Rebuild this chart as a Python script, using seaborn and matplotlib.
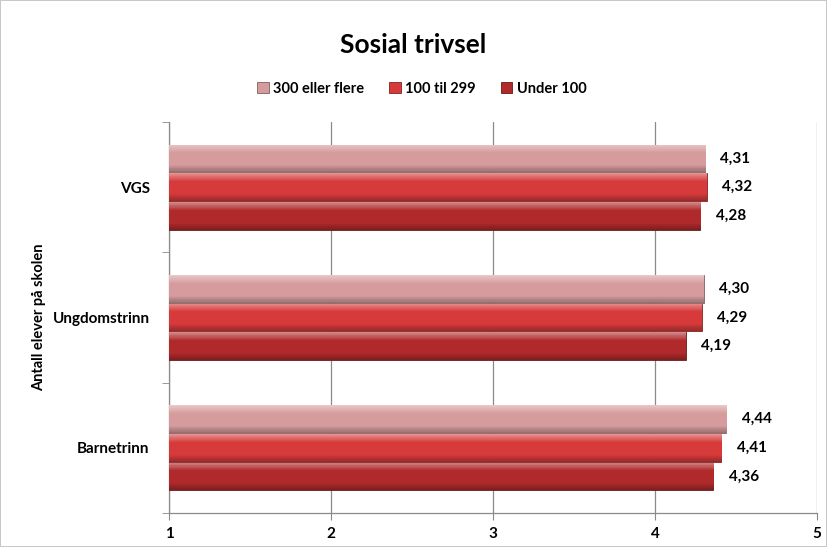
import numpy as np
import pandas as pd
import matplotlib
matplotlib.use("Agg")
import matplotlib.pyplot as plt
import matplotlib.colors as mcolors
import seaborn as sns

trinn = ["VGS", "Ungdomstrinn", "Barnetrinn"]
grupper = ["300 eller flere", "100 til 299", "Under 100"]
verdier = {
    "300 eller flere": [4.31, 4.30, 4.44],
    "100 til 299": [4.32, 4.29, 4.41],
    "Under 100": [4.28, 4.19, 4.36],
}
farger = ["#D69C9D", "#D63A3A", "#B02A2C"]
x_ticks = [1, 2, 3, 4, 5]

rows = []
for g in grupper:
    for t, v in zip(trinn, verdier[g]):
        rows.append({"trinn": t, "gruppe": g, "verdi": v})
df = pd.DataFrame(rows)

sns.set_style("white")
plt.rcParams["font.family"] = ["Lato", "DejaVu Sans"]
plt.rcParams["font.weight"] = "bold"
plt.rcParams["text.color"] = "black"
plt.rcParams["axes.labelcolor"] = "black"
plt.rcParams["xtick.labelcolor"] = "black"
plt.rcParams["ytick.labelcolor"] = "black"

fig = plt.figure(figsize=(8.27, 5.47), dpi=100, edgecolor="#c8c8c8", linewidth=1.2)
ax = fig.add_axes([0.2044, 0.0622, 0.7835, 0.7148])

sns.barplot(data=df, y="trinn", x="verdi", hue="gruppe", order=trinn,
            hue_order=grupper, palette=farger, orient="h", width=0.66,
            gap=0.04, ax=ax, legend=False, zorder=3)

xlim = (1, 5)
ylim = ax.get_ylim()

# gradient fill on each bar to mimic the bevelled look
for container, base in zip(ax.containers, farger):
    rgb = np.array(mcolors.to_rgb(base))
    light = rgb + (1 - rgb) * 0.45
    dark = rgb * 0.72
    stops = np.linspace(0, 1, 40)
    grad = []
    for s in stops:
        if s < 0.3:
            c = light + (rgb - light) * (s / 0.3)
        elif s < 0.75:
            c = rgb
        else:
            c = rgb + (dark - rgb) * ((s - 0.75) / 0.25)
        grad.append(c)
    grad = np.repeat(np.array(grad)[:, None, :], 4, axis=1)
    for bar in container:
        bar.set_edgecolor(mcolors.to_hex(rgb * 0.6))
        bar.set_linewidth(0.6)
        x0, y0 = bar.get_x(), bar.get_y()
        w, h = bar.get_width(), bar.get_height()
        im = ax.imshow(grad, extent=[xlim[0], x0 + w, y0 + h, y0], aspect="auto",
                       zorder=4, interpolation="nearest")
        im.set_clip_path(bar)
    ax.bar_label(container, labels=[f"{v:.2f}".replace(".", ",") for v in container.datavalues],
                 padding=11, fontsize=11, fontweight="bold", color="black", zorder=5)

ax.set_xlim(*xlim)
ax.set_ylim(ylim)
ax.set_xticks(x_ticks)
ax.set_xticklabels([str(t) for t in x_ticks], fontsize=11, fontweight="bold")
ax.xaxis.grid(True, color="#8a8a8a", linewidth=0.9, zorder=0)
ax.set_axisbelow(True)
ax.tick_params(axis="x", length=5, color="#8a8a8a", direction="out", pad=5, bottom=True)

ax.set_yticks(range(len(trinn)))
ax.set_yticklabels(trinn, fontsize=11, fontweight="bold")
ax.set_yticks([-0.5, 0.5, 1.5, 2.5], minor=True)
ax.tick_params(axis="y", which="major", length=0, pad=14)
ax.tick_params(axis="y", which="minor", length=5, color="#8a8a8a", left=True)

for side in ["top", "right"]:
    ax.spines[side].set_visible(False)
for side in ["left", "bottom"]:
    ax.spines[side].set_color("#8a8a8a")
    ax.spines[side].set_linewidth(0.9)

ax.set_xlabel("")
ax.set_ylabel("Antall elever på skolen", fontsize=10.5, fontweight="bold")
ax.yaxis.set_label_coords(-0.19, 0.5)

fig.text(0.5, 0.917, "Sosial trivsel", ha="center", va="center", fontsize=19, fontweight="bold")

handles = [plt.Rectangle((0, 0), 1, 1, facecolor=c, edgecolor=mcolors.to_hex(np.array(mcolors.to_rgb(c)) * 0.6), linewidth=0.6)
           for c in farger]
fig.legend(handles, grupper, loc="center", bbox_to_anchor=(0.51, 0.838), ncol=3,
           frameon=False, handlelength=0.8, handleheight=0.8,
           handletextpad=0.3, columnspacing=1.7, prop={"weight": "bold", "size": 10.5})

fig.savefig("out.png", dpi=100)
